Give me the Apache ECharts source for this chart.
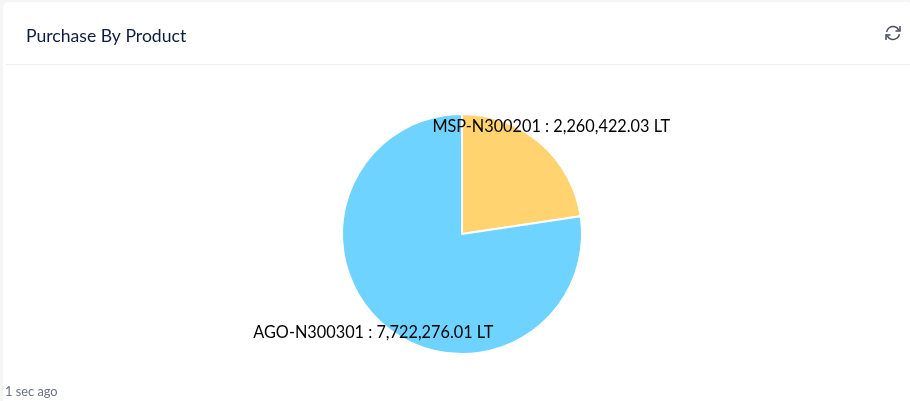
<!DOCTYPE html>
<html><head><meta charset="utf-8">
<style>html,body{margin:0;padding:0;background:#f5f5f5;}#c{width:910px;height:401px;}</style>
<script src="https://cdn.jsdelivr.net/npm/echarts@6/dist/echarts.min.js"></script>
</head><body><div id="c"></div>
<script>
const products = ['MSP-N300201', 'AGO-N300301'];
const purchases = [2260422.03, 7722276.01];
const unit = 'LT';
const colors = ['#FFD36F', '#6FD3FF'];
const titleText = 'Purchase By Product';
const ageText = '1 sec ago';
const FONT = 'Lato';
const chart = echarts.init(document.getElementById('c'), null, {renderer:'canvas'});
const fmt = v => v.toLocaleString('en-US',{minimumFractionDigits:2,maximumFractionDigits:2});
const ic = '#444b5a';
chart.setOption({
  animation:false,
  backgroundColor:'transparent',
  title:{text:titleText,left:26,top:27,textStyle:{fontFamily:FONT,fontSize:17.6,fontWeight:'normal',color:'#0e1c3d'},padding:0},
  graphic:[
    {type:'rect',z:-10,shape:{x:3,y:2,width:910,height:410,r:6},style:{fill:'#fff'}},
    {type:'rect',z:-9,shape:{x:6,y:64,width:904,height:1},style:{fill:'#f0f0f0'}},
    {type:'arc',shape:{cx:893,cy:33,r:6.5,startAngle:Math.PI*1.05,endAngle:Math.PI*1.85},style:{fill:'none',stroke:ic,lineWidth:1.5}},
    {type:'arc',shape:{cx:893,cy:33,r:6.5,startAngle:Math.PI*0.05,endAngle:Math.PI*0.85},style:{fill:'none',stroke:ic,lineWidth:1.5}},
    {type:'polyline',shape:{points:[[900,26],[900,31],[895.5,31]]},style:{fill:'none',stroke:ic,lineWidth:1.5}},
    {type:'polyline',shape:{points:[[886,40],[886,35],[890.5,35]]},style:{fill:'none',stroke:ic,lineWidth:1.5}},
    {type:'text',x:5,y:385,style:{text:ageText,fontFamily:FONT,fontSize:12.8,fill:'#6b7280'}}
  ],
  series:[{
    type:'pie',center:[462,234],radius:120,startAngle:90,clockwise:true,
    color:colors,
    data:products.map((n,i)=>({name:n,value:purchases[i]})),
    itemStyle:{borderColor:'#fff',borderWidth:2},
    emphasis:{disabled:true},
    labelLine:{show:false,length:19,length2:0},
    label:{show:true,position:'outside',alignTo:'none',formatter:p=>`${p.name} : ${fmt(p.value)} ${unit}`,fontFamily:FONT,fontSize:16.3,color:'#000'},
    labelLayout:p=>({align:'center',verticalAlign:'middle',dx:p.dataIndex===0?-6.5:7,dy:p.dataIndex===0?-2:-7})
  }]
});
</script></body></html>
